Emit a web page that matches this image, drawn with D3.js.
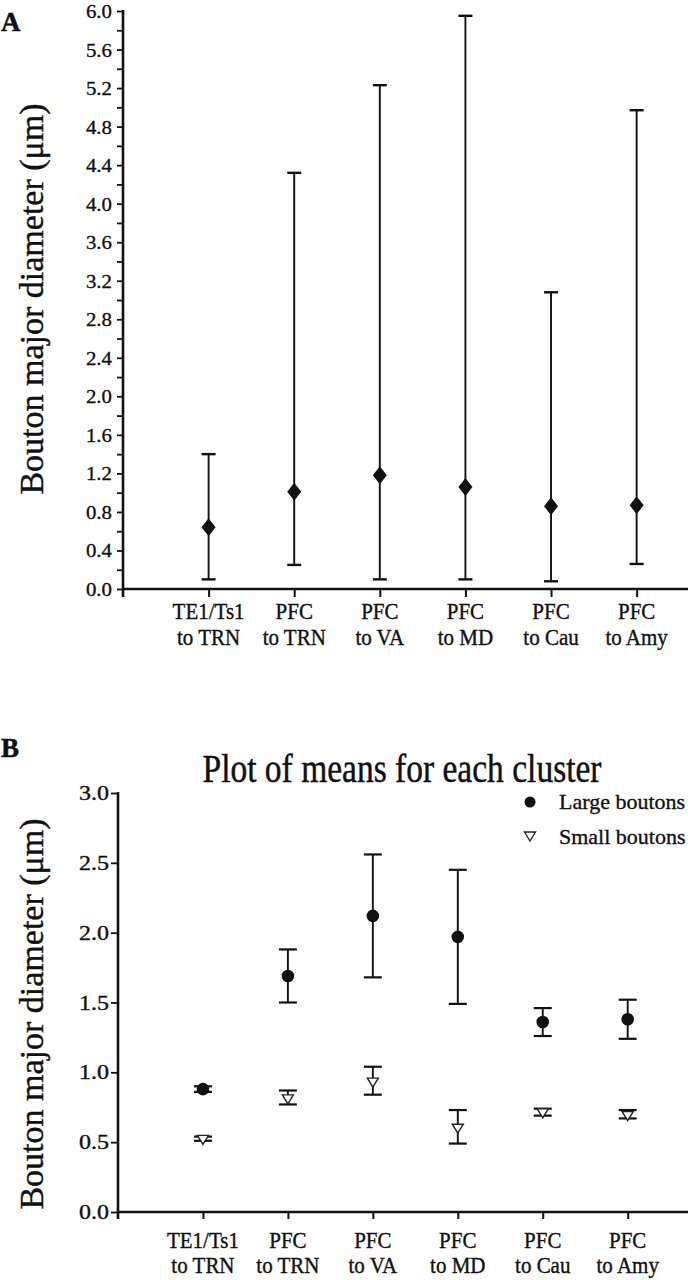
<!DOCTYPE html>
<html>
<head>
<meta charset="utf-8">
<script src="https://cdn.jsdelivr.net/npm/d3@7"></script>
<style>
  html, body { margin: 0; padding: 0; background: #fff; }
  svg { display: block; }
</style>
</head>
<body>
<svg id="chart" width="688" height="1280"></svg>
<script>
// ---------- data ----------
const categoryLine1 = ["TE1/Ts1", "PFC", "PFC", "PFC", "PFC", "PFC"];
const categoryLine2 = ["to TRN", "to TRN", "to VA", "to MD", "to Cau", "to Amy"];

// Panel A: mean with min-max range
const meanA = [0.64, 1.01, 1.18, 1.06, 0.86, 0.87];
const minA  = [0.10, 0.25, 0.10, 0.10, 0.08, 0.26];
const maxA  = [1.40, 4.32, 5.23, 5.95, 3.08, 4.97];

// Panel B: cluster means with error bars
const largeMean = [0.88, 1.69, 2.12, 1.97, 1.36, 1.38];
const largeLo   = [0.86, 1.50, 1.68, 1.49, 1.26, 1.24];
const largeHi   = [0.90, 1.88, 2.56, 2.45, 1.46, 1.52];
const smallMean = [0.52, 0.81, 0.93, 0.60, 0.71, 0.69];
const smallLo   = [0.51, 0.77, 0.84, 0.49, 0.69, 0.67];
const smallHi   = [0.54, 0.87, 1.04, 0.73, 0.74, 0.73];

const ticksA      = [0.0, 0.4, 0.8, 1.2, 1.6, 2.0, 2.4, 2.8, 3.2, 3.6, 4.0, 4.4, 4.8, 5.2, 5.6, 6.0];
const minorTicksA = [0.2, 0.6, 1.0, 1.4, 1.8, 2.2, 2.6, 3.0, 3.4, 3.8, 4.2, 4.6, 5.0, 5.4, 5.8];
const ticksB      = [0.0, 0.5, 1.0, 1.5, 2.0, 2.5, 3.0];

const yTitle = "Bouton major diameter (\u03bcm)";
const titleB = "Plot of means for each cluster";
const legendLabels = ["Large boutons", "Small boutons"];

// ---------- drawing ----------
const FONT = "'Liberation Serif', 'Times New Roman', Times, serif";
const svg = d3.select("#chart");
const idx = d3.range(categoryLine1.length);

function txt(g, x, y, s, size, opts = {}) {
  const sx = opts.sx || 1, sy = opts.sy || 1, rot = opts.rot || 0;
  return g.append("text")
    .attr("transform", `translate(${x},${y}) rotate(${rot}) scale(${sx},${sy})`)
    .attr("font-family", FONT)
    .attr("font-size", size)
    .attr("fill", "#111")
    .attr("stroke", "#111")
    .attr("stroke-width", opts.sw === undefined ? 0.35 : opts.sw)
    .attr("text-anchor", opts.anchor || "start")
    .attr("font-weight", opts.weight || "normal")
    .text(s);
}

function styleAxis(g, w) {
  g.selectAll(".domain").remove();
  g.selectAll(".tick line").attr("stroke", "#111").attr("stroke-width", w);
  g.selectAll(".tick text").remove();
}

// ===== Panel A =====
const A = { x0: 123, x1: 688, yTop: 11, yBot: 589 };
const xA = d3.scaleLinear().domain([0, 6.6]).range([A.x0, A.x1]);
const yA = d3.scaleLinear().domain([0, 6]).range([A.yBot, A.yTop]);
const gA = svg.append("g");

const yAxA = gA.append("g").attr("transform", `translate(${A.x0},0)`)
  .call(d3.axisLeft(yA).tickValues(ticksA).tickSize(6));
styleAxis(yAxA, 1.8);
const yAxAm = gA.append("g").attr("transform", `translate(${A.x0},0)`)
  .call(d3.axisLeft(yA).tickValues(minorTicksA).tickSize(6));
styleAxis(yAxAm, 1.8);
ticksA.forEach(v => txt(gA, A.x0 - 11, yA(v) + 7, d3.format(".1f")(v), 19.5, { anchor: "end", sx: 1.07 }));

const xAxA = gA.append("g").attr("transform", `translate(0,${A.yBot})`)
  .call(d3.axisBottom(xA).tickValues(idx.map(i => i + 1)).tickSize(8));
styleAxis(xAxA, 2);
gA.append("line").attr("x1", A.x0).attr("x2", A.x0).attr("y1", A.yTop - 1).attr("y2", A.yBot + 8)
  .attr("stroke", "#111").attr("stroke-width", 2.6);
gA.append("line").attr("x1", A.x0).attr("x2", A.x1).attr("y1", A.yBot).attr("y2", A.yBot)
  .attr("stroke", "#111").attr("stroke-width", 2.6);

idx.forEach(i => {
  txt(gA, xA(i + 1), 619, categoryLine1[i], 21, { anchor: "middle", sy: 1.12 });
  txt(gA, xA(i + 1), 645, categoryLine2[i], 21, { anchor: "middle", sy: 1.12 });
});

const capA = 7;
idx.forEach(i => {
  const cx = xA(i + 1);
  gA.append("line").attr("x1", cx).attr("x2", cx).attr("y1", yA(maxA[i])).attr("y2", yA(minA[i]))
    .attr("stroke", "#111").attr("stroke-width", 1.9);
  [maxA[i], minA[i]].forEach(v => gA.append("line")
    .attr("x1", cx - capA).attr("x2", cx + capA).attr("y1", yA(v)).attr("y2", yA(v))
    .attr("stroke", "#111").attr("stroke-width", 2.4));
  const my = yA(meanA[i]);
  gA.append("path").attr("d", `M${cx},${my - 9}L${cx + 7},${my}L${cx},${my + 9}L${cx - 7},${my}Z`)
    .attr("fill", "#111");
});

txt(gA, 43, 299, yTitle, 34, { anchor: "middle", rot: -90, sw: 0.4 });
txt(svg, 1, 31, "A", 27, { weight: "bold", sw: 0.5 });

// ===== Panel B =====
const B = { x0: 118, x1: 688, yTop: 793, yBot: 1212 };
const xB = d3.scaleLinear().domain([0, 6.71]).range([B.x0, B.x1]);
const yB = d3.scaleLinear().domain([0, 3]).range([B.yBot, B.yTop]);
const gB = svg.append("g");

const yAxB = gB.append("g").attr("transform", `translate(${B.x0},0)`)
  .call(d3.axisLeft(yB).tickValues(ticksB).tickSize(7));
styleAxis(yAxB, 1.8);
ticksB.forEach(v => txt(gB, B.x0 - 9, yB(v) + 7, d3.format(".1f")(v), 20, { anchor: "end", sx: 1.2 }));

const xAxB = gB.append("g").attr("transform", `translate(0,${B.yBot})`)
  .call(d3.axisBottom(xB).tickValues(idx.map(i => i + 1)).tickSize(7));
styleAxis(xAxB, 2);
gB.append("line").attr("x1", B.x0).attr("x2", B.x0).attr("y1", B.yTop - 1).attr("y2", B.yBot + 7)
  .attr("stroke", "#111").attr("stroke-width", 2.6);
gB.append("line").attr("x1", B.x0).attr("x2", B.x1).attr("y1", B.yBot).attr("y2", B.yBot)
  .attr("stroke", "#111").attr("stroke-width", 2.6);

idx.forEach(i => {
  txt(gB, xB(i + 1), 1248, categoryLine1[i], 21, { anchor: "middle", sy: 1.12 });
  txt(gB, xB(i + 1), 1273, categoryLine2[i], 21, { anchor: "middle", sy: 1.12 });
});

const capB = 9;
function errBar(cx, lo, hi) {
  gB.append("line").attr("x1", cx).attr("x2", cx).attr("y1", yB(hi)).attr("y2", yB(lo))
    .attr("stroke", "#111").attr("stroke-width", 1.9);
  [hi, lo].forEach(v => gB.append("line")
    .attr("x1", cx - capB).attr("x2", cx + capB).attr("y1", yB(v)).attr("y2", yB(v))
    .attr("stroke", "#111").attr("stroke-width", 2.2));
}
function tri(g, cx, cy) {
  g.append("path").attr("d", `M${cx - 5.5},${cy - 4}L${cx + 5.5},${cy - 4}L${cx},${cy + 5}Z`)
    .attr("fill", "#fff").attr("stroke", "#222").attr("stroke-width", 1.4);
}
idx.forEach(i => {
  const cx = xB(i + 1);
  errBar(cx, largeLo[i], largeHi[i]);
  gB.append("circle").attr("cx", cx).attr("cy", yB(largeMean[i])).attr("r", 6.3).attr("fill", "#111");
  errBar(cx, smallLo[i], smallHi[i]);
  tri(gB, cx, yB(smallMean[i]));
});

// legend
gB.append("circle").attr("cx", 530).attr("cy", 802).attr("r", 5.5).attr("fill", "#111");
txt(gB, 559, 809, legendLabels[0], 22);
tri(gB, 530, 836);
txt(gB, 559, 844, legendLabels[1], 22);

txt(gB, 402, 782, titleB, 33.5, { anchor: "middle", sy: 1.22, sw: 0.4 });
txt(gB, 43, 1014, yTitle, 34, { anchor: "middle", rot: -90, sw: 0.4 });
txt(svg, 1, 757, "B", 27, { weight: "bold", sw: 0.5 });
</script>
</body>
</html>
